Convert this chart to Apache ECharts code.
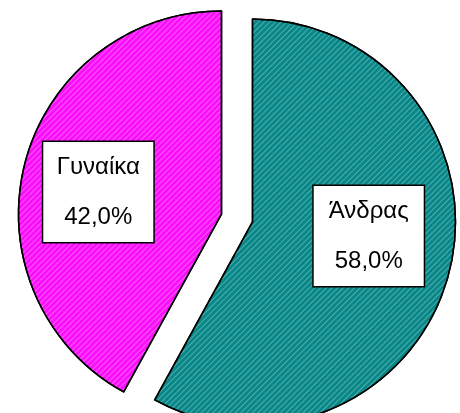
<!DOCTYPE html>
<html>
<head>
<meta charset="utf-8">
<script src="https://cdn.jsdelivr.net/npm/echarts@6/dist/echarts.min.js"></script>
<style>
  html, body { margin: 0; padding: 0; background: #fff; }
  #chart { width: 460px; height: 413px; }
</style>
</head>
<body>
<div id="chart"></div>
<script>
var names = ['Άνδρας', 'Γυναίκα'];
var values = [58.0, 42.0];
var colors = ['#078787', '#fb0ffb'];

function stripes() {
    return {
        symbol: 'rect',
        symbolSize: 1,
        dashArrayX: [1, 3],
        dashArrayY: [1, 0],
        rotation: Math.PI / 4,
        color: 'rgba(255,255,255,0.3)'
    };
}

var myChart = echarts.init(document.getElementById('chart'));

var data = [];
for (var i = 0; i < names.length; i++) {
    data.push({
        name: names[i],
        value: values[i],
        selected: true,
        itemStyle: { color: colors[i], decal: stripes() }
    });
}

// label nudges so the boxes sit like in the original
var labelShift = [[15, -12], [-22, 4]];

var option = {
    animation: false,
    series: [{
        type: 'pie',
        center: [237, 218],
        radius: 203,
        startAngle: 90,
        clockwise: true,
        selectedMode: 'multiple',
        selectedOffset: 16,
        silent: true,
        data: data,
        itemStyle: {
            borderColor: '#000',
            borderWidth: 1.5
        },
        label: {
            show: true,
            position: 'inside',
            formatter: function (p) {
                return p.name + '\n' + p.value.toFixed(1).replace('.', ',') + '%';
            },
            color: '#000',
            fontFamily: 'Liberation Sans, Arial',
            fontSize: 24,
            lineHeight: 50,
            width: 98,
            align: 'center',
            padding: [0, 6, 0, 6],
            backgroundColor: '#fff',
            borderColor: '#000',
            borderWidth: 1.5
        },
        labelLine: { show: false },
        labelLayout: function (params) {
            var s = labelShift[params.dataIndex];
            return { dx: s[0], dy: s[1] };
        }
    }]
};

myChart.setOption(option);
</script>
</body>
</html>
